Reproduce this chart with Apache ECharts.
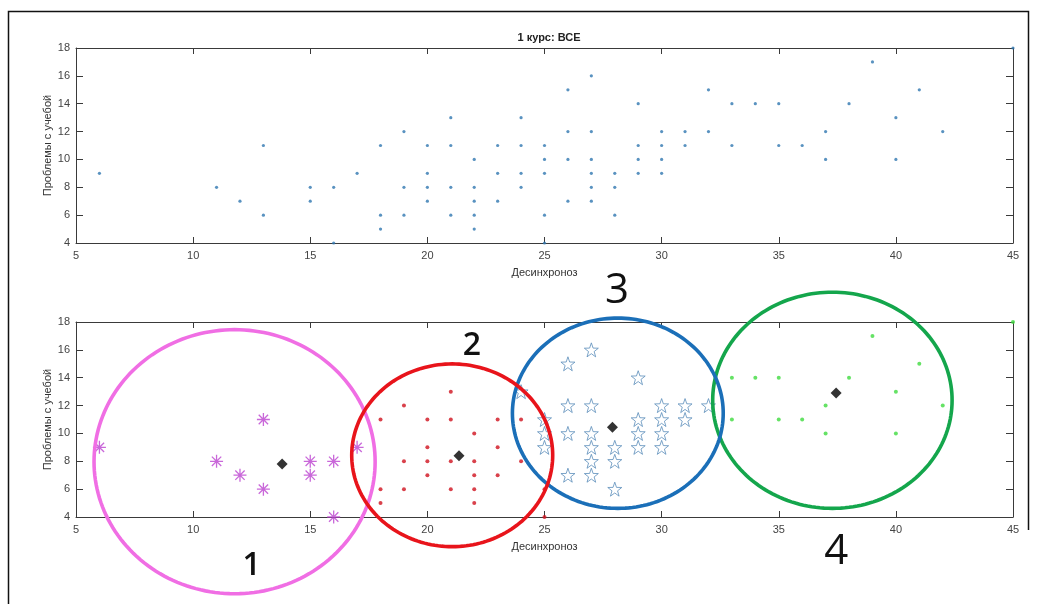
<!DOCTYPE html>
<html>
<head>
<meta charset="utf-8">
<script src="https://cdn.jsdelivr.net/npm/echarts@6/dist/echarts.min.js"></script>
<style>
html,body{margin:0;padding:0;background:#fff;}
#chart{width:1041px;height:604px;}
</style>
</head>
<body>
<div id="chart"></div>
<script>
// ---------- DATA ----------
const chartTitle = '1 курс: ВСЕ';
const xName = 'Десинхроноз';
const yName = 'Проблемы с учебой';
const xTicks = [5, 10, 15, 20, 25, 30, 35, 40, 45];
const yTicks = [4, 6, 8, 10, 12, 14, 16, 18];

// Top plot: all students
const allX = [6,11,12,13,13,15,15,16,16,17,
  18,18,18,19,19,19,20,20,20,20,
  21,21,21,21,22,22,22,22,22,
  23,23,23,24,24,24,24,
  25,25,25,25,25,
  26,26,26,26,
  27,27,27,27,27,27,
  28,28,28,
  29,29,29,29,
  30,30,30,30,
  31,31,32,32,
  33,33,34,35,35,36,37,37,38,39,40,40,41,42,45];
const allY = [9,8,7,11,6,8,7,8,4,9,
  11,6,5,12,8,6,11,9,8,7,
  13,11,8,6,10,8,7,6,5,
  11,9,7,13,11,9,8,
  11,10,9,6,4,
  15,12,10,7,
  16,12,10,9,8,7,
  9,8,6,
  14,11,10,9,
  12,11,10,9,
  12,11,15,12,
  14,11,14,14,11,11,12,10,14,17,13,10,15,12,18];

// Bottom plot: clusters
const c1X = [6,11,12,13,13,15,15,16,16,17];
const c1Y = [9,8,7,11,6,8,7,8,4,9];
const c2X = [18,18,18,19,19,19,20,20,20,20,21,21,21,21,22,22,22,22,22,23,23,23,24,24,25,25];
const c2Y = [11,6,5,12,8,6,11,9,8,7,13,11,8,6,10,8,7,6,5,11,9,7,11,8,6,4];
const c3X = [24,25,25,25,26,26,26,26,27,27,27,27,27,27,28,28,28,29,29,29,29,30,30,30,30,31,31,32];
const c3Y = [13,11,10,9,15,12,10,7,16,12,10,9,8,7,9,8,6,14,11,10,9,12,11,10,9,12,11,12];
const c4X = [33,33,34,35,35,36,37,37,38,39,40,40,41,42,45];
const c4Y = [14,11,14,14,11,11,12,10,14,17,13,10,15,12,18];
const centX = [13.8, 21.35, 27.9, 37.45];
const centY = [7.8, 8.4, 10.45, 12.9];

// Hand-drawn cluster ellipses (data units), drawing order: 1, 4, 3, 2
const ellCX = [11.77, 37.29, 28.13, 21.06];
const ellCY = [7.97, 12.38, 11.45, 8.43];
const ellRX = [6.0, 5.11, 4.5, 4.29];
const ellRY = [9.48, 7.76, 6.83, 6.56];
const ellColor = ['#F06EE4', '#14A64C', '#1B6FB8', '#E8141B'];

// Cluster number labels (data units)
const labText = ['1', '2', '3', '4'];
const labX = [12.5, 21.9, 28.1, 37.45];
const labY = [0.52, 16.25, 20.2, 1.45];
const labSize = [32, 32, 42, 42];
const labWeight = [600, 600, 400, 400];

// ---------- SYMBOLS ----------
const asteriskPath = 'path://M0,-1L0,1M-1,0L1,0M-0.72,-0.72L0.72,0.72M-0.72,0.72L0.72,-0.72';
function starPath() {
  let d = '';
  for (let i = 0; i < 10; i++) {
    const r = i % 2 === 0 ? 1 : 0.4;
    const a = -Math.PI / 2 + i * Math.PI / 5;
    d += (i === 0 ? 'M' : 'L') + (r * Math.cos(a)).toFixed(4) + ',' + (r * Math.sin(a)).toFixed(4);
  }
  return 'path://' + d + 'Z';
}
const zip = (xs, ys) => xs.map((v, i) => [v, ys[i]]);

const FONT = 'Liberation Sans';
const AX = '#3a3a3a';
function xAx(grid, bottom) {
  return {
    type: 'value', gridIndex: grid, min: 5, max: 45, interval: 5,
    position: bottom ? 'bottom' : 'top',
    name: bottom ? xName : '', nameLocation: 'middle', nameGap: 24,
    nameTextStyle: {color: '#333', fontFamily: FONT, fontSize: 11},
    axisLine: {show: true, lineStyle: {color: AX, width: 1}},
    axisTick: {show: true, inside: true, length: 6, lineStyle: {color: AX}},
    axisLabel: {show: bottom, margin: 7, color: '#444', fontFamily: FONT, fontSize: 11},
    splitLine: {show: false}
  };
}
function yAx(grid, left) {
  return {
    type: 'value', gridIndex: grid, min: 4, max: 18, interval: 2,
    position: left ? 'left' : 'right',
    name: left ? yName : '', nameLocation: 'middle', nameGap: 23, nameRotate: 90,
    nameMoveOverlap: false,
    nameTextStyle: {color: '#333', fontFamily: FONT, fontSize: 11},
    axisLine: {show: true, lineStyle: {color: AX, width: 1}},
    axisTick: {show: true, inside: true, length: 7, lineStyle: {color: AX}},
    axisLabel: {show: left, margin: 6, color: '#444', fontFamily: FONT, fontSize: 11},
    splitLine: {show: false}
  };
}

const chart = echarts.init(document.getElementById('chart'), null, {renderer: 'canvas'});
chart.setOption({
  animation: false,
  backgroundColor: '#fff',
  title: {
    text: chartTitle, left: 544, top: 27, textAlign: 'center',
    textStyle: {fontFamily: FONT, fontSize: 11, fontWeight: 'bold', color: '#222'}
  },
  graphic: [
    {type: 'polyline', shape: {points: [[8.5, 610], [8.5, 11.5], [1028.5, 11.5], [1028.5, 530]]},
     style: {stroke: '#111', lineWidth: 1.5, fill: null}, silent: true}
  ],
  grid: [
    {left: 76, top: 48, width: 937, height: 195},
    {left: 76, top: 322, width: 937, height: 195}
  ],
  xAxis: [xAx(0, true), xAx(0, false), xAx(1, true), xAx(1, false)],
  yAxis: [yAx(0, true), yAx(0, false), yAx(1, true), yAx(1, false)],
  series: [
    {type: 'scatter', xAxisIndex: 0, yAxisIndex: 0, data: zip(allX, allY),
     symbol: 'circle', symbolSize: 3.2, itemStyle: {color: '#2F77B0'}, clip: false},
    {type: 'scatter', xAxisIndex: 2, yAxisIndex: 2, data: zip(c1X, c1Y),
     symbol: asteriskPath, symbolSize: 13, clip: false,
     itemStyle: {color: 'rgba(0,0,0,0)', borderColor: '#BC42D0', borderWidth: 1.3}},
    {type: 'scatter', xAxisIndex: 2, yAxisIndex: 2, data: zip(c2X, c2Y),
     symbol: 'circle', symbolSize: 4, itemStyle: {color: '#D0121E'}, clip: false},
    {type: 'scatter', xAxisIndex: 2, yAxisIndex: 2, data: zip(c3X, c3Y),
     symbol: starPath(), symbolSize: 14, clip: false,
     itemStyle: {color: 'rgba(255,255,255,0)', borderColor: '#5B8DBA', borderWidth: 1}},
    {type: 'scatter', xAxisIndex: 2, yAxisIndex: 2, data: zip(c4X, c4Y),
     symbol: 'circle', symbolSize: 4, itemStyle: {color: '#3FDB3F'}, clip: false},
    {type: 'scatter', xAxisIndex: 2, yAxisIndex: 2, data: zip(centX, centY),
     symbol: 'diamond', symbolSize: 11, itemStyle: {color: '#000'}, clip: false, z: 3},
    {type: 'custom', xAxisIndex: 2, yAxisIndex: 2, clip: false, z: 5, silent: true,
     data: ellCX.map((v, i) => [v, ellCY[i], ellRX[i], ellRY[i]]),
     encode: {x: 0, y: 1},
     renderItem: function (params, api) {
       const c = api.coord([api.value(0), api.value(1)]);
       const s = api.size([api.value(2), api.value(3)]);
       const pts = [];
       for (let k = 0; k < 180; k++) {
         const t = 2 * Math.PI * k / 180;
         pts.push([c[0] + s[0] * Math.cos(t), c[1] + s[1] * Math.sin(t)]);
       }
       return {type: 'polygon', shape: {points: pts},
         style: {fill: null, stroke: ellColor[params.dataIndex], lineWidth: 3.6}};
     }},
    {type: 'custom', xAxisIndex: 2, yAxisIndex: 2, clip: false, z: 6, silent: true,
     data: labX.map((v, i) => [v, labY[i]]),
     encode: {x: 0, y: 1},
     renderItem: function (params, api) {
       const c = api.coord([api.value(0), api.value(1)]);
       const i = params.dataIndex;
       return {type: 'text', x: c[0], y: c[1],
         style: {text: labText[i], fill: '#111', fontFamily: 'Open Sans',
           fontSize: labSize[i], fontWeight: labWeight[i], align: 'center', verticalAlign: 'middle'}};
     }}
  ]
});
</script>
</body>
</html>
